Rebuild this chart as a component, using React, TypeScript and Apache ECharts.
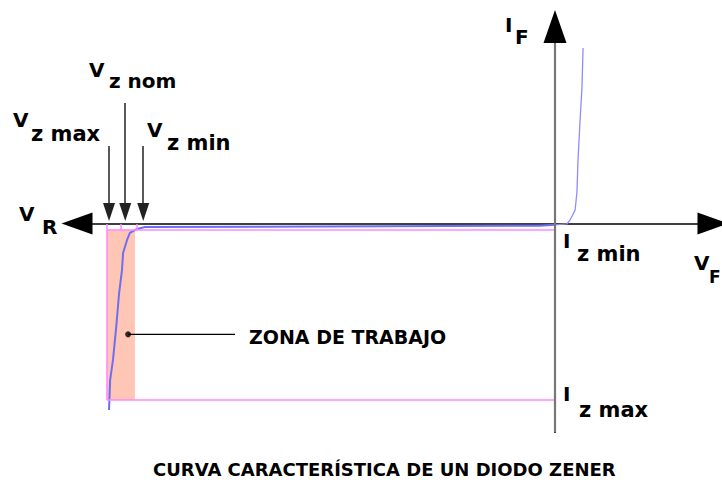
import React, { useEffect, useRef } from "react";
import * as echarts from "echarts";

// Axis domains (V on x, mA on y)
const X_MIN = -13.28;
const X_MAX = 4.39;
const Y_MIN = -47.39;
const Y_MAX = 44.77;

// Reverse (zener) branch of the characteristic
const V_REV = [-12.39, -12.36, -12.28, -12.19, -12.11, -12.03, -12.0, -11.89, -11.81, -11.61, -11.39, -0.42, 0];
const I_REV = [-42.4, -35.6, -31.0, -23.5, -15.8, -10.6, -6.7, -3.75, -2.16, -1.25, -0.8, -0.5, -0.3];
// Forward branch
const V_FWD = [0, 0.33, 0.42, 0.56, 0.61, 0.64, 0.69, 0.75, 0.78];
const I_FWD = [-0.3, -0.11, 0.8, 3.07, 7.16, 14.43, 22.39, 31.02, 39.89];

// Key values
const VZ_MAX = -12.39;
const VZ_NOM = -11.94;
const VZ_MIN = -11.44;
const ZONE_LEFT = -12.45;
const ZONE_RIGHT = -11.67;
const ZONE_MID = -12.06;
const ZONE_CORNER = -11.61;
const IZ_MIN = -1.4;
const IZ_MAX = -40.1;
const ARROW_TOP = 17.6;
const ARROW_TOP_NOM = 27.4;
const ARROW_TIP = 2.6;
const LEADER_START_V = -11.86;
const LEADER_END_V = -8.89;
const LEADER_I = -25.2;

const FONT = "'DejaVu Sans', sans-serif";

export default function App() {
  const ref = useRef<HTMLDivElement>(null);
  useEffect(() => {
    if (!ref.current) return;
    const chart = echarts.init(ref.current, null, { renderer: "svg" });
    const txt = (text: string, x: number, y: number, size = 20) => ({
      type: "text",
      x,
      y,
      silent: true,
      style: { text, fill: "#000", font: `bold ${size}px ${FONT}`, align: "left", verticalAlign: "middle" },
    });
    const pink = "#ff88ff";
    const option: any = {
      animation: false,
      grid: { left: 77, right: 9, top: 26.5, bottom: 51 },
      xAxis: {
        type: "value",
        min: X_MIN,
        max: X_MAX,
        axisLine: {
          onZero: true,
          symbol: ["triangle", "triangle"],
          symbolSize: [22, 31],
          lineStyle: { color: "#000", width: 1.5 },
        },
        axisTick: { show: false },
        axisLabel: { show: false },
        splitLine: { show: false },
      },
      yAxis: {
        type: "value",
        min: Y_MIN,
        max: Y_MAX,
        axisLine: {
          onZero: true,
          symbol: ["none", "triangle"],
          symbolSize: [23, 33],
          lineStyle: { color: "#000", width: 2 },
        },
        axisTick: { show: false },
        axisLabel: { show: false },
        splitLine: { show: false },
      },
      series: [
        {
          type: "line",
          name: "zona",
          data: [],
          z: 1,
          silent: true,
          markArea: {
            silent: true,
            itemStyle: { color: "#ffc6b6" },
            data: [[{ coord: [ZONE_LEFT, IZ_MIN] }, { coord: [ZONE_RIGHT, IZ_MAX] }]],
          },
        },
        {
          type: "line",
          name: "guias",
          data: [],
          z: 2,
          silent: true,
          markLine: {
            silent: true,
            symbol: ["none", "none"],
            label: { show: false },
            lineStyle: { color: pink, width: 1.5, type: "solid" },
            data: [
              [{ coord: [ZONE_LEFT, -0.1] }, { coord: [ZONE_LEFT, IZ_MAX] }],
              [{ coord: [ZONE_MID, -0.1] }, { coord: [ZONE_MID, IZ_MIN] }],
              [{ coord: [ZONE_CORNER, -0.1] }, { coord: [ZONE_CORNER, IZ_MIN] }],
              [{ coord: [ZONE_LEFT, IZ_MIN] }, { coord: [0, IZ_MIN] }],
              [{ coord: [ZONE_LEFT, IZ_MAX] }, { coord: [0, IZ_MAX] }],
            ],
          },
        },
        {
          type: "line",
          name: "eje",
          data: [],
          z: 3,
          silent: true,
          markLine: {
            silent: true,
            symbol: ["none", "none"],
            label: { show: false },
            lineStyle: { color: "#777", width: 2.2, type: "solid" },
            data: [[{ coord: [0, Y_MIN] }, { coord: [0, 41.0] }]],
          },
        },
        {
          type: "line",
          name: "inversa",
          data: V_REV.map((v, i) => [v, I_REV[i]]),
          showSymbol: false,
          symbol: "none",
          z: 4,
          lineStyle: { color: "#6e6ef2", width: 2 },
        },
        {
          type: "line",
          name: "directa",
          data: V_FWD.map((v, i) => [v, I_FWD[i]]),
          showSymbol: false,
          symbol: "none",
          z: 4,
          lineStyle: { color: "#8c8cff", width: 1.3 },
        },
        {
          type: "line",
          name: "flechas",
          data: [],
          z: 5,
          silent: true,
          markLine: {
            silent: true,
            symbol: ["none", "triangle"],
            symbolSize: [12, 18],
            label: { show: false },
            lineStyle: { color: "#222", width: 1.5, type: "solid" },
            itemStyle: { color: "#000" },
            data: [
              [{ coord: [VZ_MAX, ARROW_TOP] }, { coord: [VZ_MAX, ARROW_TIP] }],
              [{ coord: [VZ_NOM, ARROW_TOP_NOM] }, { coord: [VZ_NOM, ARROW_TIP] }],
              [{ coord: [VZ_MIN, ARROW_TOP] }, { coord: [VZ_MIN, ARROW_TIP] }],
            ],
          },
        },
        {
          type: "line",
          name: "indicador",
          data: [
            [LEADER_START_V, LEADER_I],
            [LEADER_END_V, LEADER_I],
          ],
          z: 5,
          silent: true,
          symbol: "none",
          lineStyle: { color: "#000", width: 1.3 },
        },
        {
          type: "scatter",
          name: "punto",
          data: [[LEADER_START_V, LEADER_I]],
          z: 6,
          silent: true,
          symbol: "circle",
          symbolSize: 6,
          itemStyle: { color: "#000" },
        },
      ],
      graphic: [
        txt("V", 89, 69.5),
        txt("z nom", 109, 81, 20),
        txt("V", 13, 119.5),
        txt("z max", 31, 134, 21),
        txt("V", 147, 129.5),
        txt("z min", 167, 143, 21),
        txt("V", 19, 213.5),
        txt("R", 42, 226.5),
        txt("I", 505, 24.5),
        txt("F", 515, 36.5),
        txt("I", 563, 240.5),
        txt("z min", 577, 254, 21),
        txt("V", 694, 263),
        txt("F", 709, 277, 17),
        txt("I", 563, 393.5),
        txt("z max", 579, 410, 21),
        txt("ZONA DE TRABAJO", 249, 337, 19),
        txt("CURVA CARACTERÍSTICA DE UN DIODO ZENER", 153, 469.5, 18),
      ],
    };
    chart.setOption(option);
    return () => chart.dispose();
  }, []);
  return (
    <div
      ref={ref}
      style={{ position: "absolute", left: 0, top: 0, width: 722, height: 483, background: "#fff" }}
    />
  );
}
